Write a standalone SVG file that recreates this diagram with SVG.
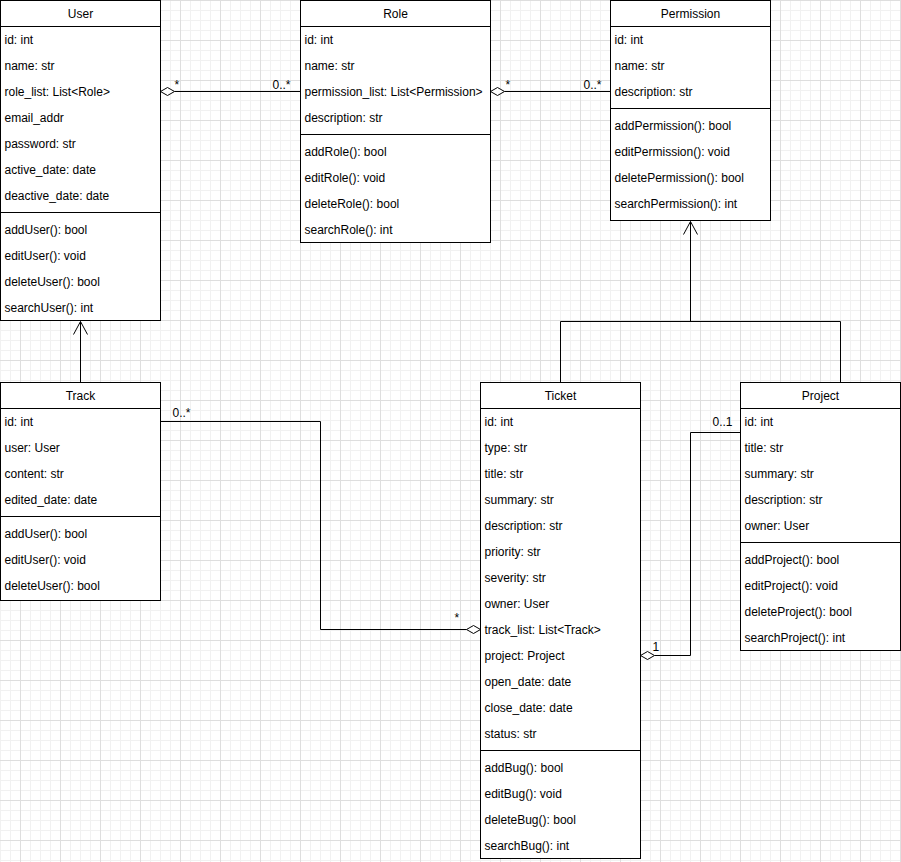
<svg xmlns="http://www.w3.org/2000/svg" width="901" height="862" viewBox="0 0 901 862">
<style>
.box{fill:#fff;stroke:#000;stroke-width:1}
.sep{stroke:#000;stroke-width:1;fill:none}
.ln{fill:none;stroke:#000;stroke-width:1}
.dia{fill:#fff;stroke:#000;stroke-width:1}
.t{font-family:"Liberation Sans",Arial,Helvetica,sans-serif;font-size:12px;fill:#000}
.h{text-anchor:middle}
</style>
<defs>
<pattern id="grid" x="20" y="0" width="40" height="40" patternUnits="userSpaceOnUse">
<rect x="0" y="0" width="40" height="40" fill="#fff"/>
<rect x="10" y="0" width="1" height="40" fill="#f1f1f1"/>
<rect x="20" y="0" width="1" height="40" fill="#f1f1f1"/>
<rect x="30" y="0" width="1" height="40" fill="#f1f1f1"/>
<rect x="0" y="10" width="40" height="1" fill="#f1f1f1"/>
<rect x="0" y="20" width="40" height="1" fill="#f1f1f1"/>
<rect x="0" y="30" width="40" height="1" fill="#f1f1f1"/>
<rect x="0" y="0" width="1" height="40" fill="#dedede"/>
<rect x="0" y="0" width="40" height="1" fill="#dedede"/>
</pattern>
</defs>
<rect x="0" y="0" width="901" height="862" fill="url(#grid)"/>
<g transform="translate(0.5,0.5)">
<g id="connectors">
<path class="ln" d="M174,91 H300"/>
<path class="dia" d="M160,91 L167,87 L174,91 L167,95 Z"/>
<path class="ln" d="M504,91 H610"/>
<path class="dia" d="M490,91 L497,87 L504,91 L497,95 Z"/>
<path class="ln" d="M80,382 V321"/>
<path class="ln" d="M73,334 L80,321 L87,334"/>
<path class="ln" d="M560,382 V321 H840 V382"/>
<path class="ln" d="M690,321 V221"/>
<path class="ln" d="M683,234 L690,221 L697,234"/>
<path class="ln" d="M160,421 H320 V629 H466"/>
<path class="dia" d="M480,629 L473,625 L466,629 L473,633 Z"/>
<path class="ln" d="M740,432 H690 V655 H654"/>
<path class="dia" d="M640,655 L647,651 L654,655 L647,659 Z"/>
<text class="t" x="174" y="88">*</text>
<text class="t" x="272" y="88">0..*</text>
<text class="t" x="505" y="88">*</text>
<text class="t" x="583" y="88">0..*</text>
<text class="t" x="172" y="416">0..*</text>
<text class="t" x="454" y="621">*</text>
<text class="t" x="652" y="650">1</text>
<text class="t" x="712" y="425">0..1</text>
</g>
<g id="User">
<rect class="box" x="0" y="0" width="160" height="320"/>
<line class="sep" x1="0" y1="26" x2="160" y2="26"/>
<line class="sep" x1="0" y1="212" x2="160" y2="212"/>
<text class="t h" x="80" y="17">User</text>
<text class="t" x="4" y="43">id: int</text>
<text class="t" x="4" y="69">name: str</text>
<text class="t" x="4" y="95">role_list: List&lt;Role&gt;</text>
<text class="t" x="4" y="121">email_addr</text>
<text class="t" x="4" y="147">password: str</text>
<text class="t" x="4" y="173">active_date: date</text>
<text class="t" x="4" y="199">deactive_date: date</text>
<text class="t" x="4" y="233">addUser(): bool</text>
<text class="t" x="4" y="259">editUser(): void</text>
<text class="t" x="4" y="285">deleteUser(): bool</text>
<text class="t" x="4" y="311">searchUser(): int</text>
</g>
<g id="Role">
<rect class="box" x="300" y="0" width="190" height="242"/>
<line class="sep" x1="300" y1="26" x2="490" y2="26"/>
<line class="sep" x1="300" y1="134" x2="490" y2="134"/>
<text class="t h" x="395" y="17">Role</text>
<text class="t" x="304" y="43">id: int</text>
<text class="t" x="304" y="69">name: str</text>
<text class="t" x="304" y="95">permission_list: List&lt;Permission&gt;</text>
<text class="t" x="304" y="121">description: str</text>
<text class="t" x="304" y="155">addRole(): bool</text>
<text class="t" x="304" y="181">editRole(): void</text>
<text class="t" x="304" y="207">deleteRole(): bool</text>
<text class="t" x="304" y="233">searchRole(): int</text>
</g>
<g id="Permission">
<rect class="box" x="610" y="0" width="160" height="220"/>
<line class="sep" x1="610" y1="26" x2="770" y2="26"/>
<line class="sep" x1="610" y1="108" x2="770" y2="108"/>
<text class="t h" x="690" y="17">Permission</text>
<text class="t" x="614" y="43">id: int</text>
<text class="t" x="614" y="69">name: str</text>
<text class="t" x="614" y="95">description: str</text>
<text class="t" x="614" y="129">addPermission(): bool</text>
<text class="t" x="614" y="155">editPermission(): void</text>
<text class="t" x="614" y="181">deletePermission(): bool</text>
<text class="t" x="614" y="207">searchPermission(): int</text>
</g>
<g id="Track">
<rect class="box" x="0" y="382" width="160" height="218"/>
<line class="sep" x1="0" y1="408" x2="160" y2="408"/>
<line class="sep" x1="0" y1="516" x2="160" y2="516"/>
<text class="t h" x="80" y="399">Track</text>
<text class="t" x="4" y="425">id: int</text>
<text class="t" x="4" y="451">user: User</text>
<text class="t" x="4" y="477">content: str</text>
<text class="t" x="4" y="503">edited_date: date</text>
<text class="t" x="4" y="537">addUser(): bool</text>
<text class="t" x="4" y="563">editUser(): void</text>
<text class="t" x="4" y="589">deleteUser(): bool</text>
</g>
<g id="Ticket">
<rect class="box" x="480" y="382" width="160" height="476"/>
<line class="sep" x1="480" y1="408" x2="640" y2="408"/>
<line class="sep" x1="480" y1="750" x2="640" y2="750"/>
<text class="t h" x="560" y="399">Ticket</text>
<text class="t" x="484" y="425">id: int</text>
<text class="t" x="484" y="451">type: str</text>
<text class="t" x="484" y="477">title: str</text>
<text class="t" x="484" y="503">summary: str</text>
<text class="t" x="484" y="529">description: str</text>
<text class="t" x="484" y="555">priority: str</text>
<text class="t" x="484" y="581">severity: str</text>
<text class="t" x="484" y="607">owner: User</text>
<text class="t" x="484" y="633">track_list: List&lt;Track&gt;</text>
<text class="t" x="484" y="659">project: Project</text>
<text class="t" x="484" y="685">open_date: date</text>
<text class="t" x="484" y="711">close_date: date</text>
<text class="t" x="484" y="737">status: str</text>
<text class="t" x="484" y="771">addBug(): bool</text>
<text class="t" x="484" y="797">editBug(): void</text>
<text class="t" x="484" y="823">deleteBug(): bool</text>
<text class="t" x="484" y="849">searchBug(): int</text>
</g>
<g id="Project">
<rect class="box" x="740" y="382" width="160" height="268"/>
<line class="sep" x1="740" y1="408" x2="900" y2="408"/>
<line class="sep" x1="740" y1="542" x2="900" y2="542"/>
<text class="t h" x="820" y="399">Project</text>
<text class="t" x="744" y="425">id: int</text>
<text class="t" x="744" y="451">title: str</text>
<text class="t" x="744" y="477">summary: str</text>
<text class="t" x="744" y="503">description: str</text>
<text class="t" x="744" y="529">owner: User</text>
<text class="t" x="744" y="563">addProject(): bool</text>
<text class="t" x="744" y="589">editProject(): void</text>
<text class="t" x="744" y="615">deleteProject(): bool</text>
<text class="t" x="744" y="641">searchProject(): int</text>
</g>
</g>
</svg>
